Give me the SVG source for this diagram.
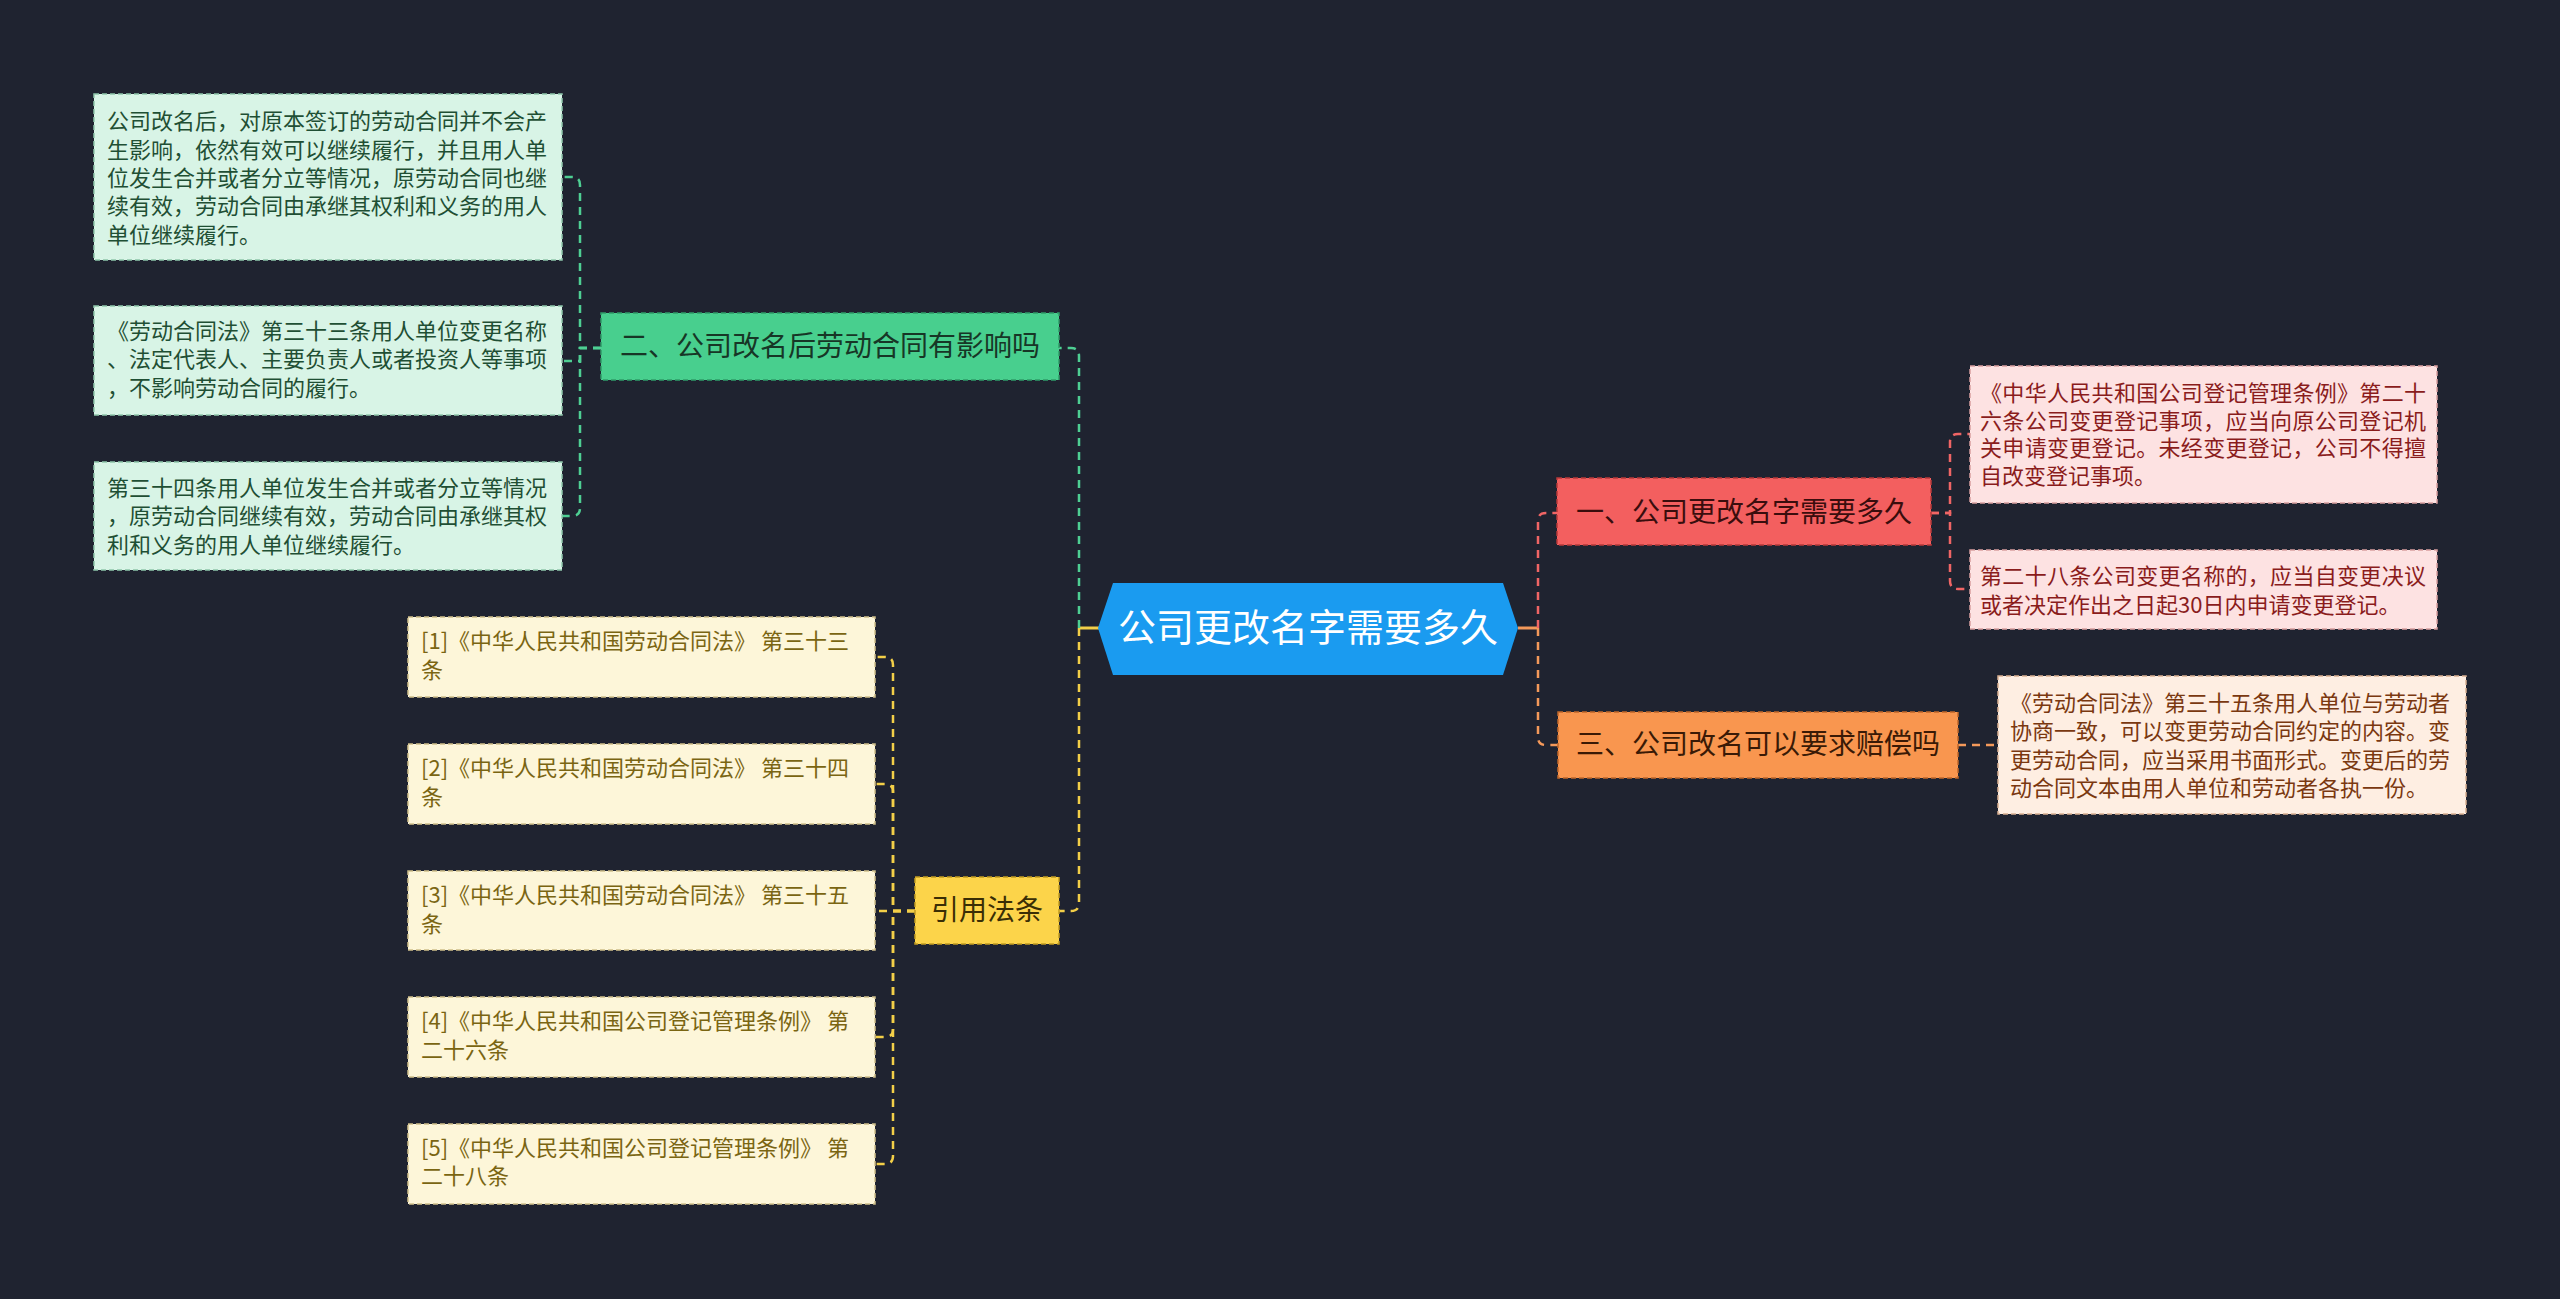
<svg xmlns="http://www.w3.org/2000/svg" width="2560" height="1299" viewBox="0 0 2560 1299">
<style>
text{font-family:"Noto Sans CJK SC","Noto Sans",sans-serif;}
.leaf{font-size:22px;}
.main{font-size:28px;text-anchor:middle;}
.c{fill:none;stroke-width:2.5;stroke-dasharray:8 6;}
.cg{stroke:#4ecf93;}
.cy{stroke:#f3cf48;}
.cr{stroke:#f06565;}
.co{stroke:#f4995a;}
.bx{stroke-width:1.5;stroke-dasharray:5 3;}
</style>
<rect x="0" y="0" width="2560" height="1299" fill="#1f2330"/>
<g id="connectors">
<path d="M1099 628 H1079" stroke="#f3cf48" stroke-width="3" fill="none"/>
<path d="M1518 628 H1538" stroke="#f4995a" stroke-width="3" fill="none"/>
<path class="c cg" d="M1079 628 V356 Q1079 348 1071 348 H1059"/>
<path class="c cy" d="M1079 628 V903 Q1079 911 1071 911 H1059"/>
<path class="c cr" d="M1538 628 V521 Q1538 513 1546 513 H1557"/>
<path class="c co" d="M1538 628 V737 Q1538 745 1546 745 H1558"/>
<path class="c cg" d="M601 348 H580 V185 Q580 177 572 177 H562"/>
<path class="c cg" d="M601 348 H580 V361 H562"/>
<path class="c cg" d="M601 348 H580 V508 Q580 516 572 516 H562"/>
<path class="c cr" d="M1931 513 H1950 V442 Q1950 434 1958 434 H1970"/>
<path class="c cr" d="M1931 513 H1950 V581 Q1950 589 1958 589 H1970"/>
<path class="c co" d="M1958 745 H1998"/>
<path class="c cy" d="M915 911 H893 V665 Q893 657 885 657 H875"/>
<path class="c cy" d="M915 911 H893 V792 Q893 784 885 784 H875"/>
<path class="c cy" d="M915 911 H875"/>
<path class="c cy" d="M915 911 H893 V1029 Q893 1037 885 1037 H875"/>
<path class="c cy" d="M915 911 H893 V1156 Q893 1164 885 1164 H875"/>
</g>
<g id="root">
<polygon points="1113,583 1503,583 1518,628 1503,675 1113,675 1098,628" fill="#1a9bf0"/>
<text x="1308" y="641" font-size="38" text-anchor="middle" fill="#ffffff">公司更改名字需要多久</text>
</g>
<g id="n2">
<rect x="601" y="313" width="458" height="67" fill="#48cf8e" stroke="#2f9c68" class="bx"/>
<text class="main" x="830" y="356" fill="#173626">二、公司改名后劳动合同有影响吗</text>
</g>
<g id="n2a">
<rect x="94" y="94" width="468" height="166" fill="#d8f4e6" stroke="#8fc6aa" class="bx"/>
<text class="leaf" fill="#1f4f34"><tspan x="107" y="129">公司改名后，对原本签订的劳动合同并不会产</tspan><tspan x="107" y="158">生影响，依然有效可以继续履行，并且用人单</tspan><tspan x="107" y="186">位发生合并或者分立等情况，原劳动合同也继</tspan><tspan x="107" y="214">续有效，劳动合同由承继其权利和义务的用人</tspan><tspan x="107" y="243">单位继续履行。</tspan></text>
</g>
<g id="n2b">
<rect x="94" y="306" width="468" height="109" fill="#d8f4e6" stroke="#8fc6aa" class="bx"/>
<text class="leaf" fill="#1f4f34"><tspan x="107" y="339">《劳动合同法》第三十三条用人单位变更名称</tspan><tspan x="107" y="367">、法定代表人、主要负责人或者投资人等事项</tspan><tspan x="107" y="396">，不影响劳动合同的履行。</tspan></text>
</g>
<g id="n2c">
<rect x="94" y="462" width="468" height="108" fill="#d8f4e6" stroke="#8fc6aa" class="bx"/>
<text class="leaf" fill="#1f4f34"><tspan x="107" y="496">第三十四条用人单位发生合并或者分立等情况</tspan><tspan x="107" y="524">，原劳动合同继续有效，劳动合同由承继其权</tspan><tspan x="107" y="553">利和义务的用人单位继续履行。</tspan></text>
</g>
<g id="n1">
<rect x="1557" y="478" width="374" height="67" fill="#f35f5f" stroke="#b83a3a" class="bx"/>
<text class="main" x="1744" y="522" fill="#3a0d0d">一、公司更改名字需要多久</text>
</g>
<g id="n1a">
<rect x="1970" y="366" width="467" height="137" fill="#fde2e2" stroke="#d9a0a0" class="bx"/>
<text class="leaf" fill="#8a1c1c"><tspan x="1980" y="401" textLength="446" lengthAdjust="spacing">《中华人民共和国公司登记管理条例》第二十</tspan><tspan x="1980" y="429" textLength="446" lengthAdjust="spacing">六条公司变更登记事项，应当向原公司登记机</tspan><tspan x="1980" y="456" textLength="446" lengthAdjust="spacing">关申请变更登记。未经变更登记，公司不得擅</tspan><tspan x="1980" y="484">自改变登记事项。</tspan></text>
</g>
<g id="n1b">
<rect x="1970" y="550" width="467" height="79" fill="#fde2e2" stroke="#d9a0a0" class="bx"/>
<text class="leaf" fill="#8a1c1c"><tspan x="1980" y="584" textLength="446" lengthAdjust="spacing">第二十八条公司变更名称的，应当自变更决议</tspan><tspan x="1980" y="613">或者决定作出之日起30日内申请变更登记。</tspan></text>
</g>
<g id="n3">
<rect x="1558" y="712" width="400" height="66" fill="#f9964f" stroke="#c0672a" class="bx"/>
<text class="main" x="1758" y="754" fill="#3a1a06">三、公司改名可以要求赔偿吗</text>
</g>
<g id="n3a">
<rect x="1998" y="676" width="468" height="138" fill="#feeee2" stroke="#d9b091" class="bx"/>
<text class="leaf" fill="#7a3810"><tspan x="2010" y="711">《劳动合同法》第三十五条用人单位与劳动者</tspan><tspan x="2010" y="739">协商一致，可以变更劳动合同约定的内容。变</tspan><tspan x="2010" y="768">更劳动合同，应当采用书面形式。变更后的劳</tspan><tspan x="2010" y="796">动合同文本由用人单位和劳动者各执一份。</tspan></text>
</g>
<g id="n4">
<rect x="915" y="877" width="144" height="67" fill="#fcd44a" stroke="#c09a20" class="bx"/>
<text class="main" x="987" y="920" fill="#3a2e05">引用法条</text>
</g>
<g id="r1">
<rect x="408" y="617" width="467" height="80" fill="#fdf6d9" stroke="#cfc08a" class="bx"/>
<text class="leaf" fill="#7a6512"><tspan x="421" y="649">[1]《中华人民共和国劳动合同法》 第三十三</tspan><tspan x="421" y="678">条</tspan></text>
</g>
<g id="r2">
<rect x="408" y="744" width="467" height="80" fill="#fdf6d9" stroke="#cfc08a" class="bx"/>
<text class="leaf" fill="#7a6512"><tspan x="421" y="776">[2]《中华人民共和国劳动合同法》 第三十四</tspan><tspan x="421" y="805">条</tspan></text>
</g>
<g id="r3">
<rect x="408" y="871" width="467" height="79" fill="#fdf6d9" stroke="#cfc08a" class="bx"/>
<text class="leaf" fill="#7a6512"><tspan x="421" y="903">[3]《中华人民共和国劳动合同法》 第三十五</tspan><tspan x="421" y="932">条</tspan></text>
</g>
<g id="r4">
<rect x="408" y="997" width="467" height="80" fill="#fdf6d9" stroke="#cfc08a" class="bx"/>
<text class="leaf" fill="#7a6512"><tspan x="421" y="1029">[4]《中华人民共和国公司登记管理条例》 第</tspan><tspan x="421" y="1058">二十六条</tspan></text>
</g>
<g id="r5">
<rect x="408" y="1124" width="467" height="80" fill="#fdf6d9" stroke="#cfc08a" class="bx"/>
<text class="leaf" fill="#7a6512"><tspan x="421" y="1156">[5]《中华人民共和国公司登记管理条例》 第</tspan><tspan x="421" y="1184">二十八条</tspan></text>
</g>
</svg>
